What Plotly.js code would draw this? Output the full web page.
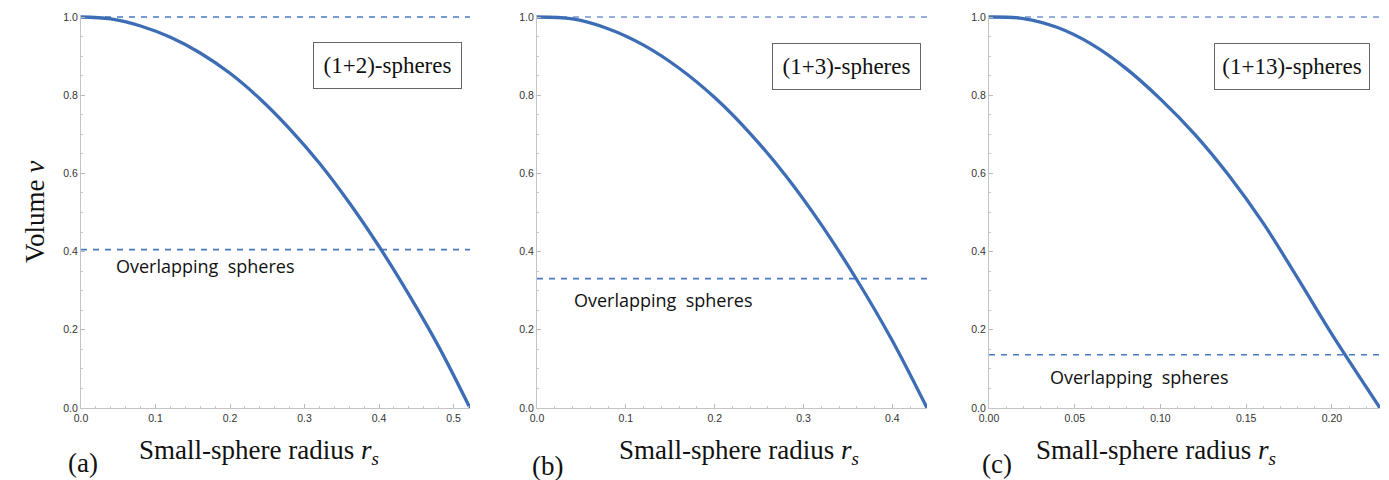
<!DOCTYPE html>
<html>
<head>
<meta charset="utf-8">
<script src="https://cdn.plot.ly/plotly-3.0.1.min.js"></script>
<style>html,body{margin:0;padding:0;background:#fff;}#chart{width:1389px;height:480px;}</style>
</head>
<body>
<div id="chart"></div>
<script>
// Panel (a): (1+2)-spheres
var rA = [0, 0.04, 0.08, 0.12, 0.16, 0.20, 0.24, 0.28, 0.32, 0.36, 0.40, 0.44, 0.48, 0.522];
var vA = [1.0, 0.995, 0.977, 0.948, 0.908, 0.856, 0.791, 0.714, 0.626, 0.525, 0.413, 0.290, 0.157, 0.0];
// Panel (b): (1+3)-spheres
var rB = [0, 0.04, 0.08, 0.12, 0.16, 0.20, 0.24, 0.28, 0.32, 0.36, 0.40, 0.439];
var vB = [1.0, 0.995, 0.970, 0.928, 0.869, 0.794, 0.702, 0.594, 0.469, 0.328, 0.172, 0.0];
// Panel (c): (1+13)-spheres
var rC = [0, 0.02, 0.04, 0.06, 0.08, 0.10, 0.12, 0.14, 0.16, 0.18, 0.20, 0.228];
var vC = [1.0, 0.996, 0.973, 0.930, 0.868, 0.790, 0.700, 0.594, 0.472, 0.332, 0.188, 0.0];

// dashed reference levels: [full volume, overlapping spheres]
var levelsA = [1.0, 0.405];
var levelsB = [1.0, 0.331];
var levelsC = [1.0, 0.136];

var xMax = [0.522, 0.439, 0.228];
var boxLabels = ["(1+2)-spheres", "(1+3)-spheres", "(1+13)-spheres"];
var panelLabels = ["(a)", "(b)", "(c)"];
var overlapLabel = "Overlapping&#160;&#160;spheres";
var xTitle = "Small-sphere radius <i>r</i><sub><i>s</i></sub>";
var yTitle = "Volume <i>v</i>";

var W = 1389, H = 480;
function px(x){return x/W;}
function py(y){return 1 - y/H;}

var curveColor = "#3d6db5";
var dashColors = [["#4a78c2", "#4a78c2"], ["#7594cc", "#4a78c2"], ["#7594cc", "#4a78c2"]];
var dashWidths = [[1.6, 1.6], [1.3, 1.6], [1.3, 1.6]];

var panels = [
  {r: rA, v: vA, lv: levelsA, xa: "x", ya: "y"},
  {r: rB, v: vB, lv: levelsB, xa: "x2", ya: "y2"},
  {r: rC, v: vC, lv: levelsC, xa: "x3", ya: "y3"}
];

var data = [];
panels.forEach(function(p, i){
  p.lv.forEach(function(level, j){
    data.push({x: [0, xMax[i]], y: [level, level], xaxis: p.xa, yaxis: p.ya,
      mode: "lines", line: {color: dashColors[i][j], width: dashWidths[i][j], dash: "6px,6px"}, hoverinfo: "skip"});
  });
  data.push({x: p.r, y: p.v, xaxis: p.xa, yaxis: p.ya, mode: "lines",
    line: {color: curveColor, width: 3.3, shape: "spline", smoothing: 1.0}});
});

var tickFont = {family: "Liberation Sans, Arial, sans-serif", size: 10.5, color: "#333"};
var yTop = 1 + 2 / 391; // small headroom so the top lines are not clipped
function xAx(domain, range, dtick, minorDtick, fmt, anchor){
  return {domain: domain, range: range, anchor: anchor, dtick: dtick, tick0: 0, tickformat: fmt,
    showgrid: false, zeroline: false, showline: true, linecolor: "#c4c4c4", linewidth: 1,
    ticks: "inside", ticklen: 4, tickcolor: "#b8b8b8", tickfont: tickFont,
    minor: {dtick: minorDtick, tick0: 0, ticks: "inside", ticklen: 2, tickcolor: "#c8c8c8"},
    fixedrange: true};
}
function yAx(anchor){
  return {domain: [py(408), py(15)], range: [0, yTop], anchor: anchor, dtick: 0.2, tick0: 0, tickformat: ".1f",
    showgrid: false, zeroline: false, showline: true, linecolor: "#c4c4c4", linewidth: 1,
    ticks: "inside", ticklen: 4, tickcolor: "#b8b8b8", tickfont: tickFont,
    minor: {dtick: 0.05, tick0: 0, ticks: "inside", ticklen: 2, tickcolor: "#c8c8c8"},
    fixedrange: true};
}

var serif = "Liberation Serif, Times New Roman, serif";
var annotations = [];
annotations.push({xref: "paper", yref: "paper", x: px(35), y: py(212), text: yTitle, showarrow: false,
  textangle: -90, font: {family: serif, size: 27, color: "#111"}, xanchor: "center", yanchor: "middle"});
var xTitleCenters = [259, 739, 1156];
var panelLabelCenters = [[83, 463], [547, 466], [997, 464]];
var boxCenters = [[387.5, 65.5], [846.5, 66.5], [1292, 66.5]];
var boxWidths = [149, 149, 156];
var overlapCenters = [[205, 266], [663, 300], [1139, 377]];
for (var i = 0; i < 3; i++){
  annotations.push({xref: "paper", yref: "paper", x: px(xTitleCenters[i]), y: py(452), text: xTitle,
    showarrow: false, font: {family: serif, size: 27, color: "#111"}, xanchor: "center", yanchor: "middle"});
  annotations.push({xref: "paper", yref: "paper", x: px(panelLabelCenters[i][0]), y: py(panelLabelCenters[i][1]),
    text: panelLabels[i], showarrow: false, font: {family: serif, size: 27, color: "#111"},
    xanchor: "center", yanchor: "middle"});
  annotations.push({xref: "paper", yref: "paper", x: px(boxCenters[i][0]), y: py(boxCenters[i][1]),
    text: boxLabels[i], showarrow: false, font: {family: serif, size: 23, color: "#111"},
    xanchor: "center", yanchor: "middle", bordercolor: "#666", borderwidth: 1, borderpad: 0,
    bgcolor: "#fff", width: boxWidths[i] - 2, height: 45});
  annotations.push({xref: "paper", yref: "paper", x: px(overlapCenters[i][0]), y: py(overlapCenters[i][1]),
    text: overlapLabel, showarrow: false, font: {family: "Open Sans, sans-serif", size: 18, color: "#111"},
    xanchor: "center", yanchor: "middle"});
}

var layout = {
  width: W, height: H, margin: {l: 0, r: 0, t: 0, b: 0},
  paper_bgcolor: "#fff", plot_bgcolor: "#fff", showlegend: false,
  xaxis: xAx([px(81), px(470)], [0, xMax[0]], 0.1, 0.02, ".1f", "y"),
  yaxis: yAx("x"),
  xaxis2: xAx([px(537), px(927)], [0, xMax[1]], 0.1, 0.02, ".1f", "y2"),
  yaxis2: yAx("x2"),
  xaxis3: xAx([px(989), px(1380)], [0, xMax[2]], 0.05, 0.01, ".2f", "y3"),
  yaxis3: yAx("x3"),
  annotations: annotations
};

Plotly.newPlot("chart", data, layout, {displayModeBar: false, staticPlot: true});
</script>
</body>
</html>
